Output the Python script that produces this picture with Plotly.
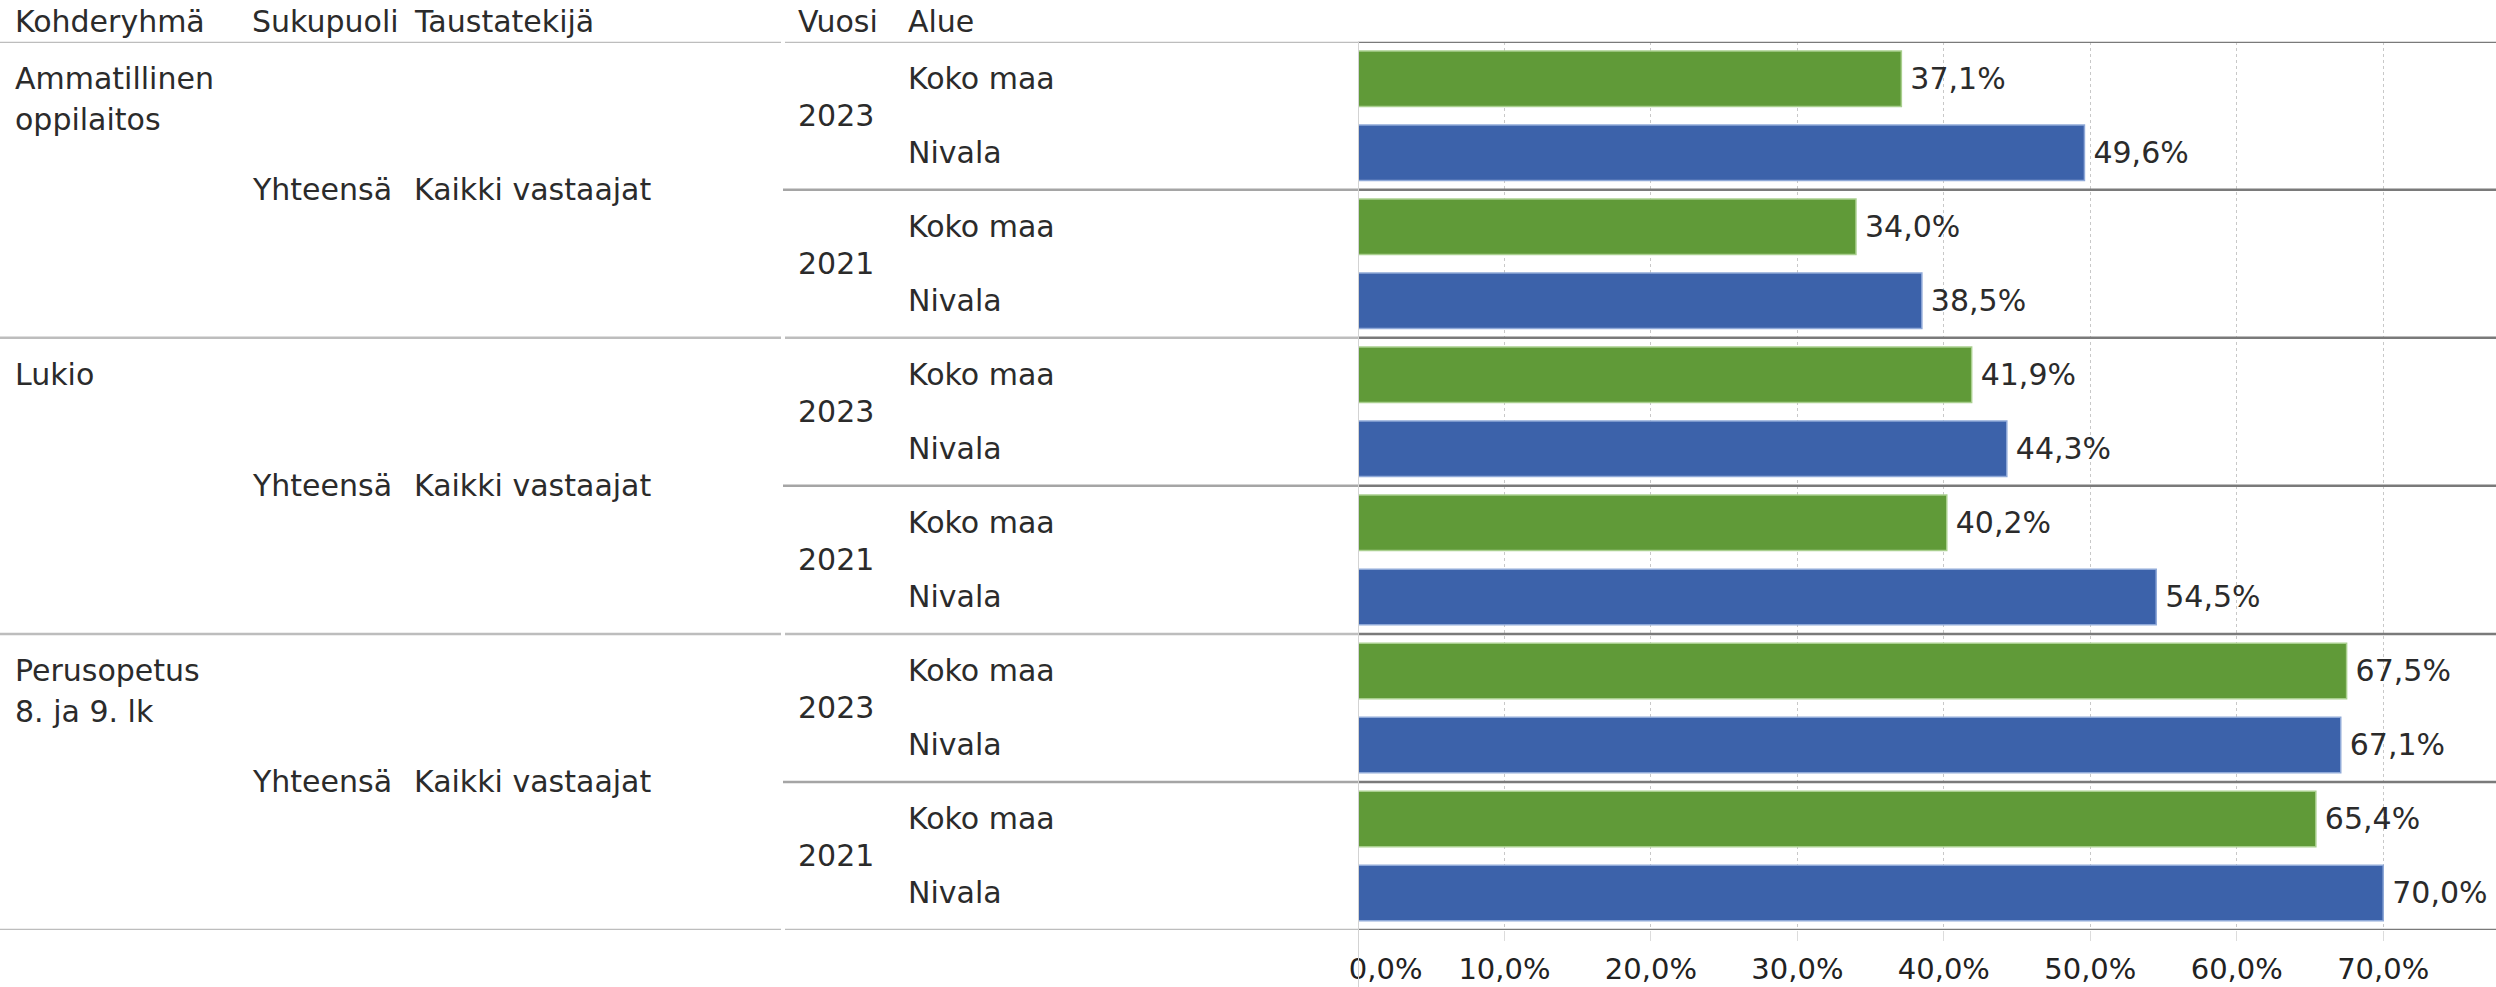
import plotly.graph_objects as go

# ---------------- data ----------------
kohderyhmat = ["Ammatillinen oppilaitos", "Lukio", "Perusopetus 8. ja 9. lk"]
kohderyhma_lines = [["Ammatillinen", "oppilaitos"], ["Lukio"], ["Perusopetus", "8. ja 9. lk"]]
sukupuoli = "Yhteensä"
taustatekija = "Kaikki vastaajat"
vuodet = ["2023", "2021"]
alueet = ["Koko maa", "Nivala"]

koko_maa_2023 = [37.1, 41.9, 67.5]
nivala_2023 = [49.6, 44.3, 67.1]
koko_maa_2021 = [34.0, 40.2, 65.4]
nivala_2021 = [38.5, 54.5, 70.0]

headers = ["Kohderyhmä", "Sukupuoli", "Taustatekijä", "Vuosi", "Alue"]
tick_values = [0, 10, 20, 30, 40, 50, 60, 70]
x_max = 77.7

values = {
    ("2023", "Koko maa"): koko_maa_2023,
    ("2023", "Nivala"): nivala_2023,
    ("2021", "Koko maa"): koko_maa_2021,
    ("2021", "Nivala"): nivala_2021,
}

# ---------------- layout constants ----------------
W, H = 2496, 987
top_px, bottom_px = 41.7, 930.0
plot_left_px = 1358.0
LABEL_FONT = "'DejaVu Sans', Verdana, sans-serif"
TICK_FONT = "'DejaVu Sans', Verdana, sans-serif"
FS = 30
TXT = "#2b2b2b"
GREEN = "#609A38"
BLUE = "#3C62AA"

def px_x(p):
    return p / W

def px_y(p):
    return 1 - p / H

x0_dom = px_x(plot_left_px)

# ---------------- build rows ----------------
rows_per_group = len(vuodet) * len(alueet)
series = {a: {"y": [], "x": []} for a in alueet}
for g, _ in enumerate(kohderyhmat):
    for yi, v in enumerate(vuodet):
        for ai, a in enumerate(alueet):
            r = g * rows_per_group + yi * len(alueet) + ai
            series[a]["y"].append(r)
            series[a]["x"].append(values[(v, a)][g])
n_rows = len(kohderyhmat) * rows_per_group

fig = go.Figure()
colors = {"Koko maa": GREEN, "Nivala": BLUE}
edge = {"Koko maa": "#a9cf8e", "Nivala": "#8fa9d8"}
for a in alueet:
    fig.add_trace(go.Bar(
        x=series[a]["x"], y=series[a]["y"], orientation="h", name=a,
        width=0.75,
        marker=dict(color=colors[a], line=dict(color=edge[a], width=1.5)),
        texttemplate="\u2009%{x:.1f}%", textposition="outside",
        textfont=dict(family=LABEL_FONT, size=FS, color=TXT),
        cliponaxis=False, showlegend=False, hoverinfo="skip",
    ))

ann = []
def txt(text, x, y, yref):
    ann.append(dict(text=text, x=x, y=y, xref="paper", yref=yref,
                    xanchor="left", yanchor="middle", showarrow=False,
                    font=dict(family=LABEL_FONT, size=FS, color=TXT)))

# headers
head_x = [13, 250, 412, 796, 906]
for h, xp in zip(headers, head_x):
    txt(h, px_x(xp), px_y(21), "paper")

line_step = 0.55
for g, lines in enumerate(kohderyhma_lines):
    base = g * rows_per_group
    for k, ln in enumerate(lines):
        txt(ln, px_x(13), base + k * line_step, "y")
    mid = base + (rows_per_group - 1) / 2
    txt(sukupuoli, px_x(250), mid, "y")
    txt(taustatekija, px_x(412), mid, "y")
    for yi, v in enumerate(vuodet):
        yb = base + yi * len(alueet)
        txt(v, px_x(796), yb + (len(alueet) - 1) / 2, "y")
        for ai, a in enumerate(alueet):
            txt(a, px_x(906), yb + ai, "y")

shapes = []
def hline(y, xa, xb, color, width):
    shapes.append(dict(type="line", xref="paper", yref="y", x0=xa, x1=xb, y0=y, y1=y,
                       line=dict(color=color, width=width), layer="above"))

# header & section & bottom lines
for g in range(len(kohderyhmat) + 1):
    yb = g * rows_per_group - 0.5
    hline(yb, 0, px_x(781), "#bdbdbd", 2.5)
    hline(yb, px_x(785), x0_dom, "#bdbdbd", 2.5)
    hline(yb, x0_dom, 1, "#7a7a7a", 2.5)
# year separator lines
for g in range(len(kohderyhmat)):
    yb = g * rows_per_group + len(alueet) - 0.5
    hline(yb, px_x(783), x0_dom, "#a5a5a5", 2.5)
    hline(yb, x0_dom, 1, "#7a7a7a", 2.5)
# vertical axis line
shapes.append(dict(type="line", xref="x", yref="paper", x0=0, x1=0, y0=0, y1=px_y(top_px),
                   line=dict(color="#d3d3d3", width=2), layer="above"))

tick_text = []
for t in tick_values:
    s = f"{t:.1f}".replace(".", ",") + "%"
    tick_text.append(s)
tick_text[0] = "\u2007\u2007\u2007" + tick_text[0]

fig.update_layout(
    width=W, height=H, margin=dict(l=0, r=0, t=0, b=0, pad=0, autoexpand=False),
    paper_bgcolor="white", plot_bgcolor="white",
    separators=", ", barmode="overlay",
    annotations=ann, shapes=shapes,
    xaxis=dict(domain=[x0_dom, 1], range=[0, x_max], tickvals=tick_values, ticktext=tick_text,
               showgrid=True, gridcolor="#c8c8c8", gridwidth=1, griddash="3px,3px",
               zeroline=False, showline=False, ticks="outside", ticklen=10, tickcolor="#dcdcdc",
               ticklabelstandoff=3, automargin=False,
               tickfont=dict(family=TICK_FONT, size=29, color="#222")),
    yaxis=dict(domain=[px_y(bottom_px), px_y(top_px)], range=[n_rows - 0.5, -0.5], automargin=False,
               showticklabels=False, showgrid=False, zeroline=False, showline=False, ticks=""),
)

fig.write_html("out.html", config={"displayModeBar": False},
               post_script="document.body.style.margin='0';document.body.style.overflow='hidden';")
